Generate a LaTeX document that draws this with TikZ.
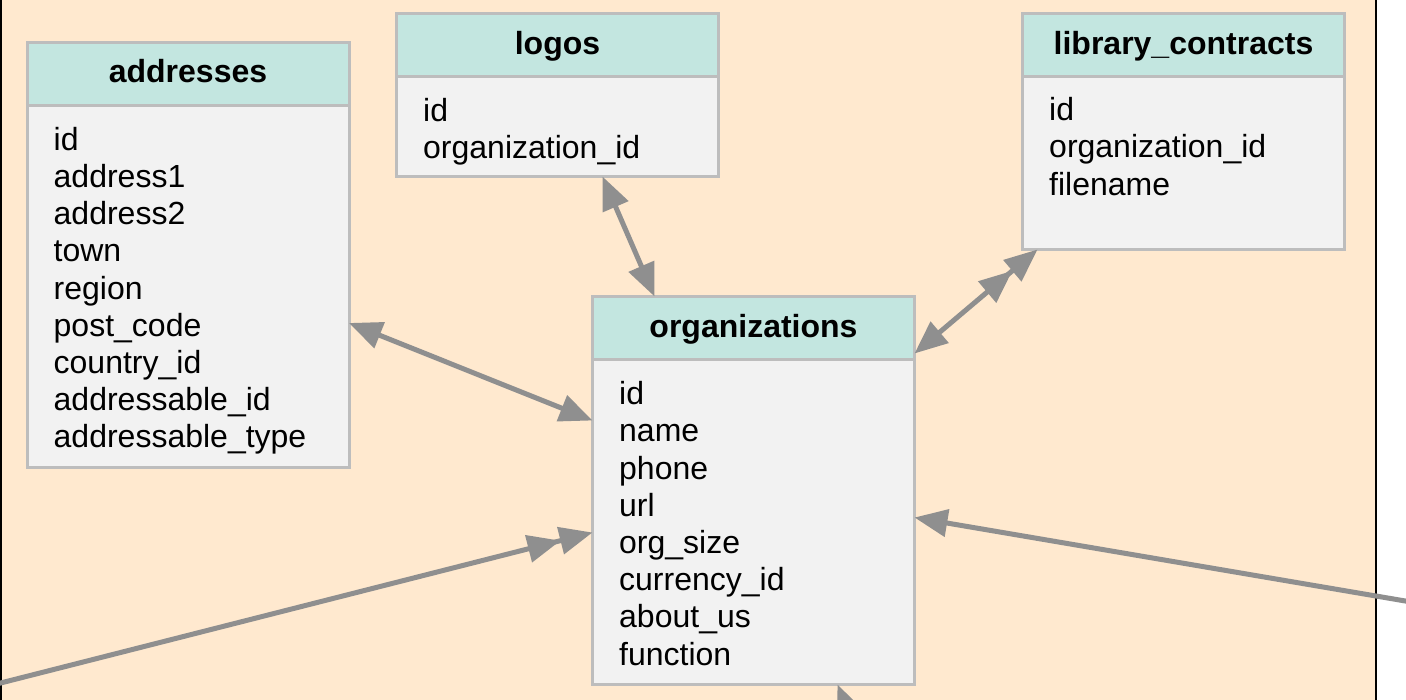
\documentclass[tikz,border=0pt]{standalone}
\usepackage{fontspec}
\setmainfont{Liberation Sans}
\usetikzlibrary{arrows.meta,calc}
\definecolor{peach}{HTML}{FFE9CF}
\definecolor{headfill}{HTML}{C3E6E0}
\definecolor{bodyfill}{HTML}{F2F2F2}
\definecolor{bordergray}{HTML}{BDBDBD}
\definecolor{conngray}{HTML}{8F8F8F}
\tikzset{
  tblhead/.style={draw=bordergray, line width=3pt, fill=headfill, minimum width=322pt, minimum height=63pt, inner sep=0pt, outer sep=0pt, anchor=north west, text height=24pt, text depth=6pt, font=\fontsize{32}{37.2}\selectfont\bfseries},
  tblbody/.style={draw=bordergray, line width=3pt, fill=bodyfill, minimum width=322pt, inner sep=0pt, outer sep=0pt, anchor=north west},
  fields/.style={anchor=north west, inner sep=0pt, align=left, font=\fontsize{32}{37.2}\selectfont},
  conn/.style={draw=conngray, line width=5pt, arrows={-Triangle[length=33pt,width=27pt]}},
  bothconn/.style={draw=conngray, line width=5pt, arrows={Triangle[length=33pt,width=27pt]-Triangle[length=33pt,width=27pt]}},
  dblconn/.style={draw=conngray, line width=5pt, arrows={Triangle[length=33pt,width=27pt,sep=0pt]Triangle[length=33pt,width=27pt]-Triangle[length=33pt,width=27pt]}},
  dblendconn/.style={draw=conngray, line width=5pt, arrows={-Triangle[length=33pt,width=27pt,sep=0pt]Triangle[length=33pt,width=27pt]}}
}
\begin{document}
\begin{tikzpicture}[x=1pt,y=-1pt]
\useasboundingbox (0,0) rectangle (1406,699);
\clip (0,0) rectangle (1406,699);
\fill[white] (0,0) rectangle (1406,699);
\fill[peach] (1,-5) rectangle (1376,705);
\draw[black, line width=2pt] (1,-5) -- (1,705);
\draw[black, line width=2pt] (1376,-5) -- (1376,705);

% addresses
\node[tblhead] (addrhead) at (27,42) {addresses};
\node[tblbody, minimum height=362pt] (addrbody) at (addrhead.south west) {};
\node[fields] (addrfields) at ([xshift=26.5pt]addrbody.north west) {\rule{0pt}{45pt}id\\address1\\address2\\town\\region\\post\_code\\country\_id\\addressable\_id\\addressable\_type};

% logos
\node[tblhead] (logohead) at (396.5,13.5) {logos};
\node[tblbody, minimum height=100pt] (logobody) at (logohead.south west) {};
\node[fields] (logofields) at ([xshift=26.5pt]logobody.north west) {\rule{0pt}{44.5pt}id\\organization\_id};

% library_contracts
\node[tblhead] (libhead) at (1022.5,13.5) {library\_contracts};
\node[tblbody, minimum height=173pt] (libbody) at (libhead.south west) {};
\node[fields] (libfields) at ([xshift=26.5pt]libbody.north west) {\rule{0pt}{44pt}id\\organization\_id\\filename};

% organizations
\node[tblhead] (orghead) at (592.5,296.5) {organizations};
\node[tblbody, minimum height=325pt] (orgbody) at (orghead.south west) {};
\node[fields] (orgfields) at ([xshift=26.5pt]orgbody.north west) {\rule{0pt}{45pt}id\\name\\phone\\url\\org\_size\\currency\_id\\about\_us\\function};

% free ends
\coordinate (leftfree) at (-60,698.4);
\coordinate (rightfree) at (1460,610.3);
\coordinate (botfree) at (876,779);

% connectors
\draw[bothconn] ([xshift=206pt]logobody.south west) -- ([xshift=62pt]orghead.north west);
\draw[bothconn] ([yshift=-218pt]addrbody.north east) -- ([yshift=-61pt]orgbody.north west);
\draw[dblconn] ([xshift=15pt]libbody.south west) -- ([yshift=6pt]orghead.south east);
\draw[dblendconn] (leftfree) -- ([yshift=-173pt]orgbody.north west);
\draw[conn] (rightfree) -- ([yshift=-158pt]orgbody.north east);
\draw[conn] (botfree) -- ([xshift=245pt]orgbody.south west);
\end{tikzpicture}
\end{document}
